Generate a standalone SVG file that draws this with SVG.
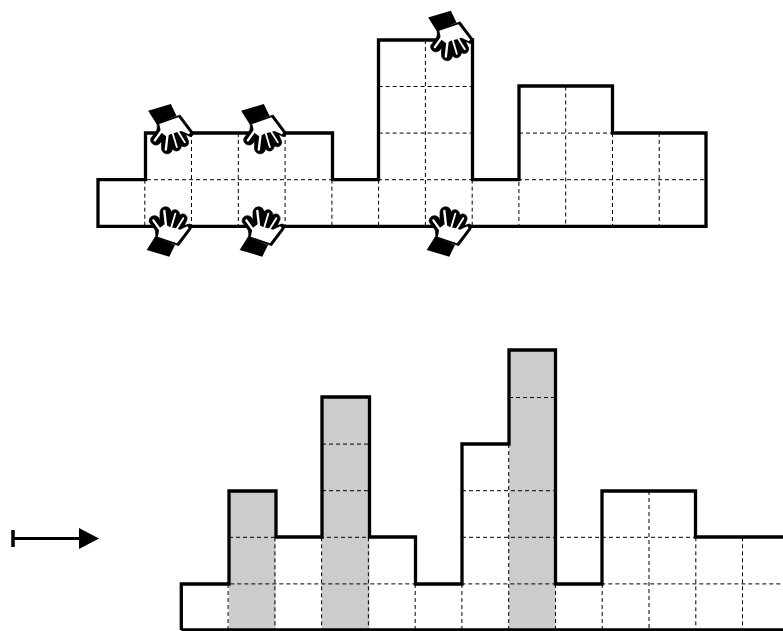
<svg xmlns="http://www.w3.org/2000/svg" width="783" height="631" viewBox="0 0 783 631">
<style>
.o{fill:none;stroke:#000;stroke-width:3.300;stroke-linejoin:miter}
.d{fill:none;stroke:#000;stroke-width:1;stroke-dasharray:4 3}
.g{fill:#ccc}
.b{fill:#000;stroke:#000;stroke-width:2;stroke-linejoin:round}
.w{fill:#fff}
.l{fill:none;stroke:#fff;stroke-width:7;stroke-linecap:round}
</style>
<defs>
<g id="hand" transform="scale(.3333)">
<path d="M50 165L75 125L135 150L118 185Z" fill="#000"/>
<path class="b" d="M76 128C78 118 78 110 74 103L58 82C54 66 72 56 84 66L90 74L90 50C93 33 116 30 122 46L124 50C130 40 148 42 150 60C160 52 174 60 171 74L162 94L174 88C183 84 188 96 182 104L146 152Z"/>
<path class="w" d="M83 125C86 116 87 108 88 100L104 88L120 96L136 100L150 104L172 94L176 99L141 145Z"/>
<path class="l" d="M70 76L90 104M103 48L108 92"/>
<path class="l" style="stroke-width:5.500" d="M136 56L124 96M160 70L140 102"/>
</g>
</defs>
<g id="top-shape">
<path class="d" d="M144.800 179.700V226M191.500 133V226M238.300 133V226M285.100 133V226M331.900 179.700V226M378.600 179.700V226M425.400 40V226M472.200 179.700V226M518.900 133V226M565.700 86.500V226M612.500 133V226M659.200 133V226M98 179.700H706M144.800 133.100H332M378.600 133.100H472M519 133.100H706M378.600 86.500H472"/>
<path class="o" d="M98 179.700H145.500V133H332.500V179.700H378.500V40H472.500V179.700H519V86H612.500V133H706V226.300H98Z"/>
</g>
<g id="hands">
<use href="#hand" transform="translate(130 195)"/>
<use href="#hand" transform="translate(223 195)"/>
<use href="#hand" transform="translate(410 195)"/>
<use href="#hand" transform="translate(131.500 165.700) scale(1 -1)"/>
<use href="#hand" transform="translate(224.500 165.700) scale(1 -1)"/>
<use href="#hand" transform="translate(411.500 72.500) scale(1 -1)"/>
</g>
<g id="bottom-shape">
<path class="g" d="M229 491H275.500V630H229ZM322 397H369.500V630H322ZM509 350H555.500V630H509Z"/>
<path class="d" d="M228.100 584V630M274.900 537.300V630M321.600 537.300V630M368.400 537.300V630M415.200 584V630M461.900 584V630M508.700 444V630M555.500 584V630M602.200 584V630M649 491V630M695.800 537.300V630M742.500 537.300V630M181.300 583.900H783M229 537.300H415M462 537.300H783M462 490.700H555M322 444.100H369M322 490.700H369M509 397.500H555"/>
<path class="o" d="M181.300 630V584H229V491H276V537H322V397H369.500V537H415.500V584H462V444H509V350H555.500V584H602V491H695.500V537H790M181.300 630H790"/>
</g>
<g id="connectors">
<path d="M13 530V547" stroke="#000" stroke-width="3.500" fill="none"/>
<path d="M13 538.500H82" stroke="#000" stroke-width="3" fill="none"/>
<path d="M79 528L99 538.500L79 549Z" fill="#000"/>
</g>
</svg>
